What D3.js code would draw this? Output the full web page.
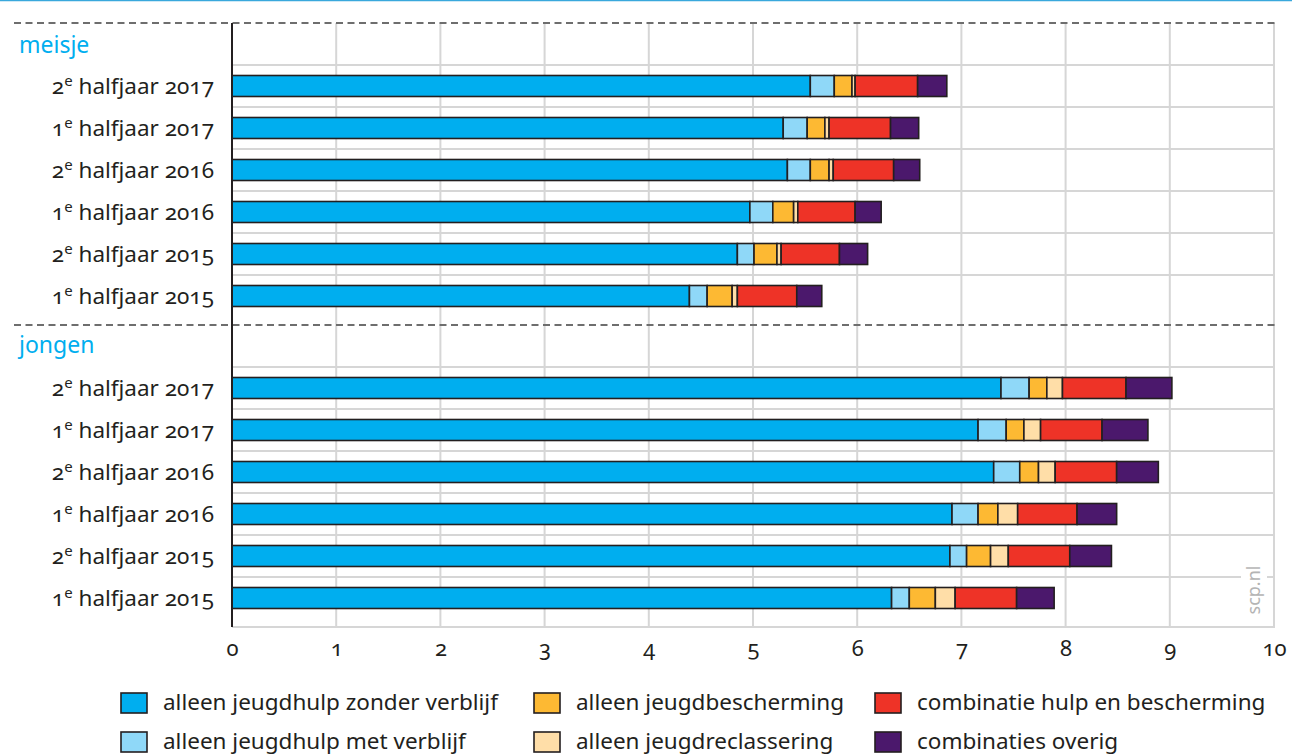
<!DOCTYPE html>
<html>
<head>
<meta charset="utf-8">
<script src="https://cdn.jsdelivr.net/npm/d3@7"></script>
<style>
  html, body { margin: 0; padding: 0; background: #fff; }
  svg { display: block; font-family: "Noto Sans", "Open Sans", sans-serif; font-variant-numeric: oldstyle-nums; }
</style>
</head>
<body>
<svg id="chart" width="1292" height="756"></svg>
<script>
// Periods, top to bottom within each group
const periods = ["2e halfjaar 2017", "1e halfjaar 2017", "2e halfjaar 2016",
                 "1e halfjaar 2016", "2e halfjaar 2015", "1e halfjaar 2015"];

const groups = ["meisje", "jongen"];

const seriesNames = [
  "alleen jeugdhulp zonder verblijf",
  "alleen jeugdhulp met verblijf",
  "alleen jeugdbescherming",
  "alleen jeugdreclassering",
  "combinatie hulp en bescherming",
  "combinaties overig"
];

const seriesColors = ["#00aeef", "#8fd8f8", "#fdb933", "#ffdea8", "#ee3327", "#4b186c"];

// Percentages per series, girls
const meisjeZonder      = [5.55, 5.29, 5.33, 4.97, 4.85, 4.39];
const meisjeMet         = [0.23, 0.23, 0.22, 0.22, 0.16, 0.17];
const meisjeBescherming = [0.17, 0.17, 0.18, 0.20, 0.22, 0.24];
const meisjeReclass     = [0.03, 0.04, 0.04, 0.04, 0.04, 0.05];
const meisjeCombinatie  = [0.60, 0.59, 0.58, 0.55, 0.56, 0.57];
const meisjeOverig      = [0.28, 0.27, 0.25, 0.25, 0.27, 0.24];

// Percentages per series, boys
const jongenZonder      = [7.38, 7.16, 7.31, 6.91, 6.89, 6.33];
const jongenMet         = [0.27, 0.27, 0.25, 0.25, 0.16, 0.17];
const jongenBescherming = [0.17, 0.17, 0.18, 0.19, 0.23, 0.25];
const jongenReclass     = [0.15, 0.16, 0.16, 0.19, 0.17, 0.19];
const jongenCombinatie  = [0.61, 0.59, 0.59, 0.57, 0.59, 0.59];
const jongenOverig      = [0.44, 0.44, 0.40, 0.38, 0.40, 0.36];

const xTicks = [0, 1, 2, 3, 4, 5, 6, 7, 8, 9, 10];

const seriesByGroup = {
  meisje: [meisjeZonder, meisjeMet, meisjeBescherming, meisjeReclass, meisjeCombinatie, meisjeOverig],
  jongen: [jongenZonder, jongenMet, jongenBescherming, jongenReclass, jongenCombinatie, jongenOverig]
};

const svg = d3.select("#chart");
const ink = "#231f20";
const gridColor = "#d6d6d6";

const x = d3.scaleLinear().domain([0, 10]).range([232, 1274]);

// vertical extents of the plot and the two groups
const plotTop = 23, plotBottom = 627;
const groupLayout = {
  meisje: { headerY: 45, range: [65, 317], sepY: 23 },
  jongen: { headerY: 345, range: [367, 619], sepY: 325 }
};

// top rule
svg.append("line")
  .attr("x1", 0).attr("x2", 1292).attr("y1", 0.5).attr("y2", 0.5)
  .attr("stroke", "#3aa8dc").attr("stroke-width", 1.5);

// vertical grid lines
svg.append("g").selectAll("line").data(xTicks.slice(1)).join("line")
  .attr("x1", d => x(d)).attr("x2", d => x(d))
  .attr("y1", plotTop).attr("y2", plotBottom)
  .attr("stroke", gridColor).attr("stroke-width", 2);

// bottom baseline
svg.append("line")
  .attr("x1", x(0)).attr("x2", x(10) + 1).attr("y1", plotBottom).attr("y2", plotBottom)
  .attr("stroke", gridColor).attr("stroke-width", 2);

groups.forEach(g => {
  const lay = groupLayout[g];
  const y = d3.scaleBand().domain(periods).range(lay.range)
    .paddingInner(0.5).paddingOuter(0.25);
  const half = (y.step() - y.bandwidth()) / 2;

  // horizontal grid lines at the top of each row
  svg.append("g").selectAll("line").data(periods).join("line")
    .attr("x1", x(0)).attr("x2", x(10) + 1)
    .attr("y1", d => y(d) - half).attr("y2", d => y(d) - half)
    .attr("stroke", gridColor).attr("stroke-width", 2);

  // dashed separator
  svg.append("line")
    .attr("x1", 14).attr("x2", x(10) + 1)
    .attr("y1", lay.sepY).attr("y2", lay.sepY)
    .attr("stroke", "#6e6e6e").attr("stroke-width", 2)
    .attr("stroke-dasharray", "7,4.5");

  // group header
  svg.append("text")
    .attr("x", 19).attr("y", lay.headerY).attr("dy", "0.35em")
    .attr("fill", "#00aeef").attr("font-size", 23)
    .text(g);

  // stacked data
  const rows = periods.map((p, i) => {
    const obj = { period: p };
    seriesNames.forEach((s, k) => { obj[s] = seriesByGroup[g][k][i]; });
    return obj;
  });
  const stacked = d3.stack().keys(seriesNames)(rows);

  const layers = svg.append("g").selectAll("g").data(stacked).join("g")
    .attr("fill", (d, k) => seriesColors[k]);
  layers.selectAll("rect").data(d => d).join("rect")
    .attr("x", d => x(d[0]))
    .attr("width", d => x(d[1]) - x(d[0]))
    .attr("y", d => y(d.data.period))
    .attr("height", y.bandwidth())
    .attr("stroke", ink).attr("stroke-width", 1.6);

  // row labels
  const labels = svg.append("g").selectAll("text").data(periods).join("text")
    .attr("x", 214).attr("y", d => y(d) + y.bandwidth() / 2).attr("dy", "0.36em")
    .attr("text-anchor", "end").attr("fill", ink).attr("font-size", 22.5);
  labels.append("tspan").text(d => d.slice(0, 1));
  labels.append("tspan").attr("font-size", 15).attr("dy", "-0.55em").text(d => d.slice(1, 2));
  labels.append("tspan").attr("dy", "0.36em").text(d => d.slice(2));
});

// vertical axis line
svg.append("line")
  .attr("x1", x(0)).attr("x2", x(0)).attr("y1", plotTop).attr("y2", plotBottom)
  .attr("stroke", ink).attr("stroke-width", 2);

// x axis tick labels
const xAxis = d3.axisBottom(x).tickValues(xTicks).tickSize(0).tickPadding(13)
  .tickFormat(d3.format("d"));
const axisG = svg.append("g").attr("transform", `translate(0,${plotBottom})`).call(xAxis);
axisG.select(".domain").remove();
axisG.selectAll("text").attr("font-size", 22).attr("fill", ink)
  .attr("font-family", "\"Noto Sans\", sans-serif");

// source mark
const mark = svg.append("g").attr("transform", "translate(1254,590) rotate(-90)");
mark.append("rect").attr("x", -30).attr("y", -13).attr("width", 60).attr("height", 26).attr("fill", "#fff");
mark.append("text").attr("text-anchor", "middle").attr("dy", "0.35em")
  .attr("font-size", 18).attr("fill", "#b4b4b4").text("scp.nl");

// legend
const legendCols = [121, 534, 875];
const legendRows = [703, 742];
const legend = svg.append("g").selectAll("g").data(seriesNames).join("g")
  .attr("transform", (d, i) => `translate(${legendCols[Math.floor(i / 2)]},${legendRows[i % 2]})`);
legend.append("rect")
  .attr("x", 0).attr("y", -10).attr("width", 26).attr("height", 20)
  .attr("fill", (d, i) => seriesColors[i]).attr("stroke", ink).attr("stroke-width", 1.6);
legend.append("text")
  .attr("x", 42).attr("dy", "0.3em").attr("font-size", 22.5).attr("fill", ink)
  .text(d => d);
</script>
</body>
</html>
